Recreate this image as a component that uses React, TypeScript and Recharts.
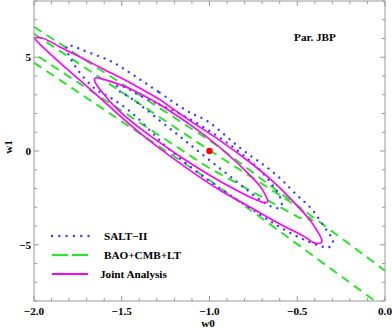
import React from 'react';
import { ComposedChart, Line, Scatter, XAxis, YAxis, Legend, Customized } from 'recharts';

const FONT = "'Liberation Serif', 'Times New Roman', serif";
const FRAME = '#999999';
const BLUE = '#3a3aff';
const GREEN = '#2fe22f';
const MAGENTA = '#ff00ff';
const FS = 11.2;

const xTicks = [-2.0, -1.9, -1.8, -1.7, -1.6, -1.5, -1.4, -1.3, -1.2, -1.1, -1.0, -0.9, -0.8, -0.7, -0.6, -0.5, -0.4, -0.3, -0.2, -0.1, 0.0];
const xMajor = [-2.0, -1.5, -1.0, -0.5, 0.0];
const xMajorLabels = ['\u22122.0', '\u22121.5', '\u22121.0', '\u22120.5', '0.0'];
const yTicks = [-8, -7, -6, -5, -4, -3, -2, -1, 0, 1, 2, 3, 4, 5, 6, 7, 8];
const yMajor = [-5, 0, 5];
const yMajorLabels = ['\u22125', '0', '5'];

const legendLabels = ['SALT\u2212II', 'BAO+CMB+LT', 'Joint Analysis'];
const titleText = 'Par. JBP';
const xTitle = 'w0';
const yTitle = 'w1';

// Joint analysis 2-sigma contour
const jointOuter = [
  { x: -1.284, y: 2.75 }, { x: -1.113, y: 1.63 }, { x: -0.942, y: 0.57 }, { x: -0.77, y: -0.6 },
  { x: -0.628, y: -1.71 }, { x: -0.514, y: -2.78 }, { x: -0.428, y: -3.68 }, { x: -0.383, y: -4.31 },
  { x: -0.36, y: -4.85 }, { x: -0.405, y: -4.9 }, { x: -0.457, y: -4.58 }, { x: -0.599, y: -3.89 },
  { x: -0.77, y: -2.99 }, { x: -0.942, y: -2.08 }, { x: -1.113, y: -1.02 }, { x: -1.284, y: 0.14 },
  { x: -1.455, y: 1.42 }, { x: -1.626, y: 2.85 }, { x: -1.769, y: 4.02 }, { x: -1.883, y: 4.97 },
  { x: -1.957, y: 5.61 }, { x: -1.991, y: 5.93 }, { x: -1.991, y: 6.04 }, { x: -1.94, y: 5.98 },
  { x: -1.855, y: 5.56 }, { x: -1.74, y: 5.03 }, { x: -1.609, y: 4.39 }, { x: -1.455, y: 3.65 },
  { x: -1.284, y: 2.75 },
];
// Joint analysis 1-sigma contour
const jointInner = [
  { x: -1.284, y: 2.48 }, { x: -1.113, y: 1.42 }, { x: -0.942, y: 0.2 }, { x: -0.799, y: -1.02 },
  { x: -0.713, y: -1.87 }, { x: -0.679, y: -2.4 }, { x: -0.668, y: -2.67 }, { x: -0.702, y: -2.72 },
  { x: -0.827, y: -2.19 }, { x: -0.999, y: -1.29 }, { x: -1.17, y: -0.28 }, { x: -1.341, y: 0.83 },
  { x: -1.512, y: 2.11 }, { x: -1.615, y: 3.17 }, { x: -1.655, y: 3.75 }, { x: -1.643, y: 3.91 },
  { x: -1.598, y: 3.81 }, { x: -1.455, y: 3.33 }, { x: -1.284, y: 2.48 },
];
// SALT-II 2-sigma contour
const saltOuter = [
  { x: -1.284, y: 3.12 }, { x: -1.113, y: 2.06 }, { x: -1.0, y: 1.52 }, { x: -0.844, y: 0.3 },
  { x: -0.713, y: -0.6 }, { x: -0.599, y: -1.45 }, { x: -0.502, y: -2.35 }, { x: -0.428, y: -2.99 },
  { x: -0.372, y: -3.68 }, { x: -0.326, y: -4.31 }, { x: -0.297, y: -4.79 }, { x: -0.314, y: -5.11 },
  { x: -0.372, y: -5.06 }, { x: -0.485, y: -4.63 }, { x: -0.628, y: -3.89 }, { x: -0.77, y: -3.04 },
  { x: -0.942, y: -1.98 }, { x: -1.113, y: -0.81 }, { x: -1.284, y: 0.57 }, { x: -1.438, y: 2.0 },
  { x: -1.586, y: 2.96 }, { x: -1.655, y: 3.33 }, { x: -1.729, y: 4.07 }, { x: -1.775, y: 4.66 },
  { x: -1.803, y: 5.13 }, { x: -1.815, y: 5.56 }, { x: -1.786, y: 5.61 }, { x: -1.683, y: 5.24 },
  { x: -1.569, y: 4.82 }, { x: -1.455, y: 4.18 }, { x: -1.284, y: 3.12 },
];
// SALT-II 1-sigma contour
const saltInner = [
  { x: -1.284, y: 2.48 }, { x: -1.13, y: 1.79 }, { x: -0.97, y: 0.89 }, { x: -0.827, y: -0.07 },
  { x: -0.702, y: -1.13 }, { x: -0.622, y: -2.08 }, { x: -0.588, y: -2.72 }, { x: -0.605, y: -3.04 },
  { x: -0.656, y: -2.93 }, { x: -0.742, y: -2.4 }, { x: -0.856, y: -1.55 }, { x: -1.0, y: -0.49 },
  { x: -1.141, y: 0.57 }, { x: -1.284, y: 1.63 }, { x: -1.427, y: 2.69 }, { x: -1.501, y: 3.12 },
  { x: -1.529, y: 3.38 }, { x: -1.512, y: 3.49 }, { x: -1.455, y: 3.28 }, { x: -1.398, y: 2.96 },
  { x: -1.284, y: 2.48 },
];
// BAO+CMB+LT contours
const baoUpper = [{ x: -2.0, y: 6.62 }, { x: -1.0, y: 0.57 }, { x: 0.0, y: -6.38 }];
const baoLower = [{ x: -2.0, y: 4.71 }, { x: -1.0, y: -1.55 }, { x: -0.057, y: -8.0 }];
const baoInner = [
  { x: -2.0, y: 6.25 }, { x: -1.0, y: 0.04 }, { x: -0.485, y: -3.04 }, { x: -0.417, y: -3.68 },
  { x: -0.485, y: -3.57 }, { x: -1.0, y: -0.92 }, { x: -2.0, y: 5.19 },
];
const bestFit = [{ x: -1.0, y: 0.0 }];

const isIn = (arr: number[], v: number) => arr.findIndex((m) => Math.abs(m - v) < 1e-6);

const BottomTick = (p: any) => {
  const i = isIn(xMajor, p.payload.value);
  const len = i >= 0 ? 5 : 3;
  return (
    <g>
      <line x1={p.x} y1={p.y} x2={p.x} y2={p.y - len} stroke={FRAME} strokeWidth={1} />
      {i >= 0 && (
        <text x={p.x} y={p.y + 13.5} textAnchor="middle" fontFamily={FONT} fontWeight="bold" fontSize={FS} fill="#000">
          {xMajorLabels[i]}
        </text>
      )}
    </g>
  );
};
const TopTick = (p: any) => {
  const i = isIn(xMajor, p.payload.value);
  const len = i >= 0 ? 5 : 3;
  return <line x1={p.x} y1={p.y} x2={p.x} y2={p.y + len} stroke={FRAME} strokeWidth={1} />;
};
const LeftTick = (p: any) => {
  const i = isIn(yMajor, p.payload.value);
  const len = i >= 0 ? 5 : 3;
  return (
    <g>
      <line x1={p.x} y1={p.y} x2={p.x + len} y2={p.y} stroke={FRAME} strokeWidth={1} />
      {i >= 0 && (
        <text x={p.x - 3} y={p.y + 3.8} textAnchor="end" fontFamily={FONT} fontWeight="bold" fontSize={FS} fill="#000">
          {yMajorLabels[i]}
        </text>
      )}
    </g>
  );
};
const RightTick = (p: any) => {
  const i = isIn(yMajor, p.payload.value);
  const len = i >= 0 ? 5 : 3;
  return <line x1={p.x} y1={p.y} x2={p.x - len} y2={p.y} stroke={FRAME} strokeWidth={1} />;
};

const renderLegend = () => (
  <svg width={150} height={60} style={{ display: 'block', overflow: 'visible' }}>
    <line x1={12} y1={11} x2={50} y2={11} stroke={BLUE} strokeWidth={2.4} strokeDasharray="0.01 7.3" strokeLinecap="round" />
    <line x1={12} y1={30} x2={28} y2={30} stroke={GREEN} strokeWidth={2.2} />
    <line x1={32} y1={30} x2={48} y2={30} stroke={GREEN} strokeWidth={2.2} />
    <line x1={12} y1={49} x2={48} y2={49} stroke={MAGENTA} strokeWidth={1.8} />
    {legendLabels.map((t, i) => (
      <text key={t} x={i === 2 ? 60 : 64} y={11 + 19 * i + 3.9} fontFamily={FONT} fontWeight="bold" fontSize={FS} fill="#000">
        {t}
      </text>
    ))}
  </svg>
);

const Texts = () => (
  <g>
    <text x={315} y={41} textAnchor="middle" fontFamily={FONT} fontWeight="bold" fontSize={FS} fill="#000">
      {titleText}
    </text>
    <text x={208} y={327} textAnchor="middle" fontFamily={FONT} fontWeight="bold" fontSize={FS} fill="#000">
      {xTitle}
    </text>
    <text x={-147} y={12} transform="rotate(-90)" textAnchor="middle" fontFamily={FONT} fontWeight="bold" fontSize={FS} fill="#000">
      {yTitle}
    </text>
  </g>
);

const lineCommon = { dataKey: 'y', dot: false, activeDot: false, isAnimationActive: false, xAxisId: 'b', yAxisId: 'l' } as const;

export default function App() {
  return (
    <div style={{ position: 'absolute', left: 0, top: 0, width: 392, height: 331, background: '#fff' }}>
      <ComposedChart width={392} height={331} margin={{ top: 0, right: 0, bottom: 0, left: 0 }}>
        <XAxis xAxisId="b" type="number" dataKey="x" domain={[-2, 0]} ticks={xTicks} interval={0} allowDataOverflow
          height={30} tickSize={0} tickMargin={0} tickLine={false} axisLine={{ stroke: FRAME }} tick={BottomTick} />
        <XAxis xAxisId="t" orientation="top" type="number" dataKey="x" domain={[-2, 0]} ticks={xTicks} interval={0} allowDataOverflow
          height={1} tickSize={0} tickMargin={0} tickLine={false} axisLine={{ stroke: FRAME }} tick={TopTick} />
        <YAxis yAxisId="l" type="number" domain={[-8, 8]} ticks={yTicks} interval={0} allowDataOverflow
          width={34} tickSize={0} tickMargin={0} tickLine={false} axisLine={{ stroke: FRAME }} tick={LeftTick} />
        <YAxis yAxisId="r" orientation="right" type="number" domain={[-8, 8]} ticks={yTicks} interval={0} allowDataOverflow
          width={7} tickSize={0} tickMargin={0} tickLine={false} axisLine={{ stroke: FRAME }} tick={RightTick} />
        <Line {...lineCommon} data={baoUpper} type="linear" stroke={GREEN} strokeWidth={2} strokeDasharray="9 6" />
        <Line {...lineCommon} data={baoLower} type="linear" stroke={GREEN} strokeWidth={2} strokeDasharray="9 6" />
        <Line {...lineCommon} data={baoInner} type="linear" stroke={GREEN} strokeWidth={2} strokeDasharray="9 6" />
        <Line {...lineCommon} data={saltOuter} type="natural" stroke={BLUE} strokeWidth={2.4} strokeDasharray="0.01 7" strokeLinecap="round" />
        <Line {...lineCommon} data={saltInner} type="natural" stroke={BLUE} strokeWidth={2.4} strokeDasharray="0.01 7" strokeLinecap="round" />
        <Line {...lineCommon} data={jointOuter} type="natural" stroke={MAGENTA} strokeWidth={1.6} />
        <Line {...lineCommon} data={jointInner} type="natural" stroke={MAGENTA} strokeWidth={1.6} />
        <Scatter xAxisId="b" yAxisId="l" data={bestFit} dataKey="y" isAnimationActive={false}
          shape={(p: any) => <circle cx={p.cx} cy={p.cy} r={3.2} fill="#ff0000" />} />
        <Legend layout="vertical" align="center" verticalAlign="middle" content={renderLegend}
          wrapperStyle={{ left: 40, top: 225, width: 150, height: 60 }} />
        <Customized component={Texts} />
      </ComposedChart>
    </div>
  );
}
